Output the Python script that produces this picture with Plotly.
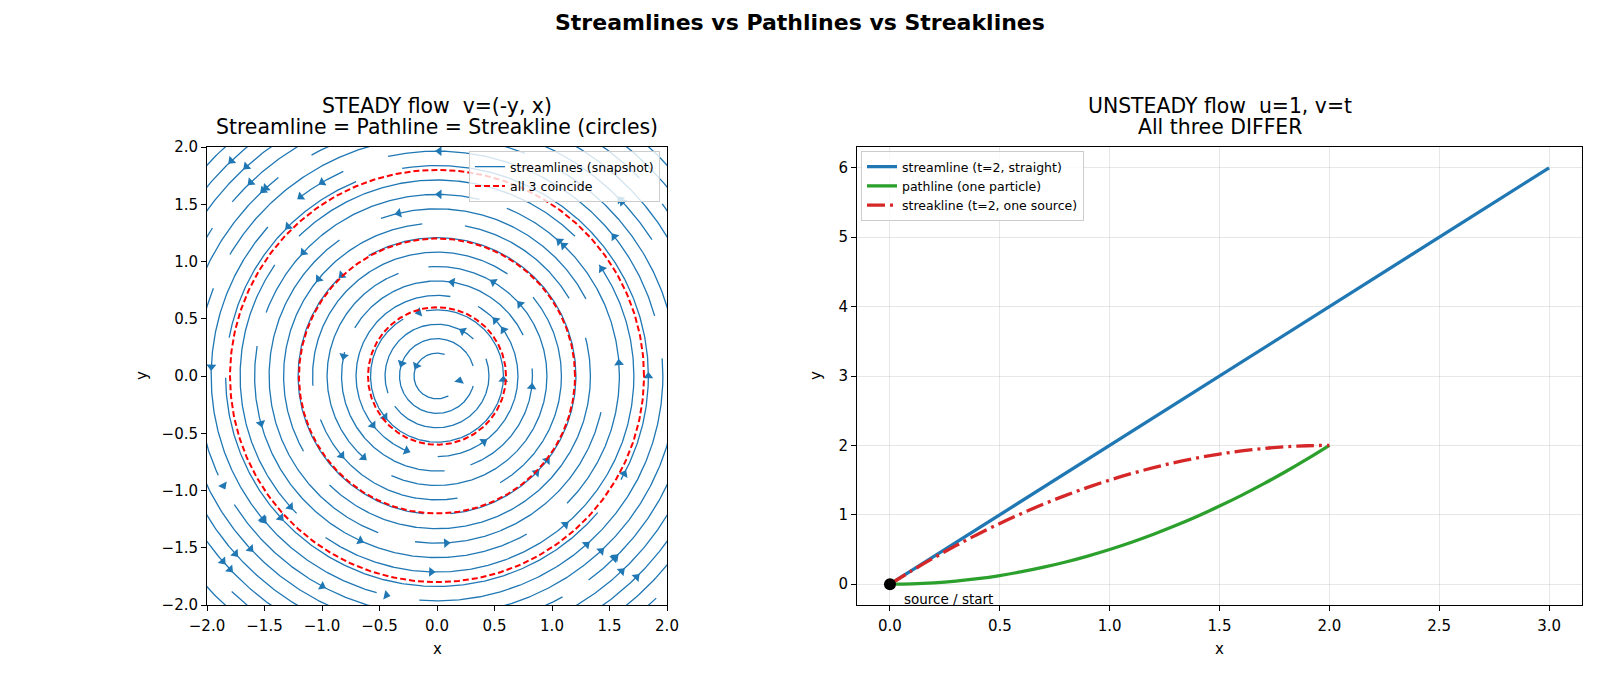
import numpy as np
import plotly.graph_objects as go

# ---------------- data ----------------
# left: steady rotational flow v = (-y, x); streamlines are circles (radii)
stream_radii = [0.200, 0.326, 0.452, 0.578, 0.704, 0.830, 0.956, 1.082, 1.208, 1.334, 1.460,
                1.586, 1.712, 1.838, 1.964, 2.090, 2.216, 2.342, 2.468, 2.594, 2.720, 2.846]
# breaks in each streamline (degrees, counter-clockwise)
stream_gaps = [
    [(300, 430)],
    [(345, 375)],
    [(20, 45), (200, 215)],
    [(100, 120)],
    [(60, 80), (250, 270)],
    [(5, 25), (150, 165), (275, 290)],
    [(95, 110), (230, 245)],
    [(40, 55), (185, 200), (280, 300)],
    [(120, 135), (265, 275)],
    [(15, 30), (80, 95), (210, 225)],
    [(-12, 27), (110, 125), (250, 262)],
    [(68, 76), (160, 170), (300, 315)],
    [(35, 45), (135, 145), (225, 235)],
    [(100, 112), (170, 180), (320, 330)],
    [(5, 15), (103, 114), (128, 138), (255, 265)],
    [(60, 68), (150, 158), (205, 212)],
    [(25, 32), (120, 128), (300, 306)],
    [(140, 146)],
    [(38, 44)],
    [(220, 226)],
    [(315, 320)],
    [],
]
coincide_radii = [0.6, 1.2, 1.8]
arrow_x = [-1.78, -1.65, -1.60, -1.52, -1.45, -1.22, -0.98, 0.02, 0.02, -0.33, -1.28, -1.13, -1.02, -0.83,
           1.04, 1.13, 1.47, 1.57, 1.57, 1.59, 0.13, 0.46, 0.76, -0.15, 0.21, 0.47, 0.59, -0.79, -0.28, -0.18,
           -1.95, 1.54, 0.24, 0.54, 0.78, 1.78, -1.48, -0.42, -0.56, 0.39, -0.80, -0.61, -0.28, 0.82, 1.00,
           1.64, -1.90, -1.24, -1.48, -1.35, -1.54, 1.11, -0.65, 0.08, 1.30, 1.43, 1.50, 1.57, -1.74, -1.61,
           -1.91, -1.80, -0.05, 1.63, -1.00, -0.43, 1.77]
arrow_y = [1.87, 1.82, 1.67, 1.63, 1.60, 1.61, 1.66, 1.93, 1.57, 1.41, 1.29, 1.05, 0.84, 0.88,
           1.15, 1.17, 0.96, 1.24, 1.48, 1.54, 0.80, 0.77, 0.66, 0.53, 0.37, 0.45, 0.41, 0.17, 0.10, 0.09,
           0.08, 0.11, -0.05, -0.03, -0.09, 0.00, -0.40, -0.33, -0.43, -0.55, -0.67, -0.68, -0.69, -0.80, -0.77,
           -0.86, -0.98, -1.11, -1.22, -1.23, -1.29, -1.29, -1.40, -1.45, -1.47, -1.53, -1.55, -1.60, -1.54, -1.50,
           -1.66, -1.69, -1.73, -1.73, -1.84, -1.87, -1.79]

# right: unsteady flow u=1, v=t
streamline_x = [0.0, 3.0]
streamline_y = [0.0, 6.0]
path_x = [0.0, 0.1, 0.2, 0.3, 0.4, 0.5, 0.6, 0.7, 0.8, 0.9, 1.0, 1.1, 1.2, 1.3, 1.4, 1.5, 1.6, 1.7, 1.8, 1.9, 2.0]
path_y = [0.0, 0.005, 0.02, 0.045, 0.08, 0.125, 0.18, 0.245, 0.32, 0.405, 0.5, 0.605, 0.72, 0.845, 0.98,
          1.125, 1.28, 1.445, 1.62, 1.805, 2.0]
streak_x = path_x
streak_y = [0.0, 0.195, 0.38, 0.555, 0.72, 0.875, 1.02, 1.155, 1.28, 1.395, 1.5, 1.595, 1.68, 1.755, 1.82,
            1.875, 1.92, 1.955, 1.98, 1.995, 2.0]
source_x = [0.0]
source_y = [0.0]

BLUE = "#1f77b4"
GREEN = "#2ca02c"
RED = "#d62728"
FONT = "DejaVu Sans"

fig = go.Figure()


def in_gap(a, gaps):
    for g0, g1 in gaps:
        for shift in (-360, 0, 360):
            if g0 <= a + shift <= g1:
                return True
    return False


sx, sy = [], []
angles = np.arange(0, 360.5, 0.5)
for r, gaps in zip(stream_radii, stream_gaps):
    drawing = False
    for a in angles:
        if in_gap(a, gaps):
            if drawing:
                sx.append(None)
                sy.append(None)
                drawing = False
            continue
        t = np.radians(a)
        sx.append(r * np.cos(t))
        sy.append(r * np.sin(t))
        drawing = True
    sx.append(None)
    sy.append(None)
fig.add_trace(go.Scatter(x=sx, y=sy, mode="lines", line=dict(color=BLUE, width=1.3),
                         name="streamlines (snapshot)", xaxis="x", yaxis="y", legend="legend"))

# arrows snapped to nearest streamline, oriented with the flow
ax_arr, ay_arr, ang = [], [], []
for x, y in zip(arrow_x, arrow_y):
    r = np.hypot(x, y)
    rr = min(stream_radii, key=lambda s: abs(s - r))
    t = np.arctan2(y, x)
    px, py = rr * np.cos(t), rr * np.sin(t)
    ax_arr.append(px)
    ay_arr.append(py)
    vx, vy = -py, px
    ang.append(float(np.degrees(np.arctan2(vx, vy))))
fig.add_trace(go.Scatter(x=ax_arr, y=ay_arr, mode="markers",
                         marker=dict(symbol="triangle-up", size=8.5, color=BLUE, angle=ang,
                                     line=dict(width=0)),
                         showlegend=False, xaxis="x", yaxis="y"))

th = np.linspace(0, 2 * np.pi, 361)
cx, cy = [], []
for r in coincide_radii:
    cx += list(r * np.cos(th)) + [None]
    cy += list(r * np.sin(th)) + [None]
fig.add_trace(go.Scatter(x=cx, y=cy, mode="lines", line=dict(color="red", width=2, dash="6px,3px"),
                         name="all 3 coincide", xaxis="x", yaxis="y", legend="legend"))

# right panel
fig.add_trace(go.Scatter(x=streamline_x, y=streamline_y, mode="lines", line=dict(color=BLUE, width=3.3),
                         name="streamline (t=2, straight)", xaxis="x2", yaxis="y2", legend="legend2"))
fig.add_trace(go.Scatter(x=path_x, y=path_y, mode="lines", line=dict(color=GREEN, width=3.3, shape="spline"),
                         name="pathline (one particle)", xaxis="x2", yaxis="y2", legend="legend2"))
fig.add_trace(go.Scatter(x=streak_x, y=streak_y, mode="lines",
                         line=dict(color=RED, width=3.3, dash="18px,5px,3px,5px", shape="spline"),
                         name="streakline (t=2, one source)", xaxis="x2", yaxis="y2", legend="legend2"))
fig.add_trace(go.Scatter(x=source_x, y=source_y, mode="markers", marker=dict(color="black", size=12),
                         showlegend=False, xaxis="x2", yaxis="y2", cliponaxis=False))

W, H = 1600, 677
LX0, LX1 = 207, 667
RX0, RX1 = 857, 1582
YT, YB = 147, 605
lx0, lx1 = LX0 / W, LX1 / W
rx0, rx1 = RX0 / W, RX1 / W
yb, yt = 1 - YB / H, 1 - YT / H

TICK = 15
tick_font = dict(family=FONT, size=TICK, color="black")
common = dict(showline=True, linecolor="black", linewidth=1, mirror=True, ticks="outside",
              ticklen=5, tickcolor="black", tickfont=tick_font, zeroline=False, automargin=False)

lt = [-2.0, -1.5, -1.0, -0.5, 0.0, 0.5, 1.0, 1.5, 2.0]
ltt = [f"{v:.1f}".replace("-", "\u2212") for v in lt]

fig.update_layout(
    width=W, height=H,
    margin=dict(l=0, r=0, t=0, b=0, autoexpand=False),
    paper_bgcolor="white", plot_bgcolor="white",
    font=dict(family=FONT, color="black"),
    xaxis=dict(domain=[lx0, lx1], range=[-2, 2], tickvals=lt, ticktext=ltt, showgrid=False,
               anchor="y", ticklabelstandoff=2, **common),
    yaxis=dict(domain=[yb, yt], range=[-2, 2], tickvals=lt, ticktext=ltt, showgrid=False,
               anchor="x", **common),
    xaxis2=dict(domain=[rx0, rx1], range=[-0.15, 3.15], tickvals=[0, 0.5, 1, 1.5, 2, 2.5, 3],
                ticktext=["0.0", "0.5", "1.0", "1.5", "2.0", "2.5", "3.0"],
                showgrid=True, gridcolor="rgba(176,176,176,0.3)", gridwidth=1,
                anchor="y2", ticklabelstandoff=2, **common),
    yaxis2=dict(domain=[yb, yt], range=[-0.3, 6.3], tickvals=[0, 1, 2, 3, 4, 5, 6],
                showgrid=True, gridcolor="rgba(176,176,176,0.3)", gridwidth=1,
                anchor="x2", **common),
    legend=dict(x=660 / W, y=1 - 151 / H, xanchor="right", yanchor="top",
                bgcolor="rgba(255,255,255,0.8)", bordercolor="#cccccc", borderwidth=1,
                font=dict(family=FONT, size=12.5), tracegroupgap=0, itemwidth=30),
    legend2=dict(x=861 / W, y=1 - 151 / H, xanchor="left", yanchor="top",
                 bgcolor="rgba(255,255,255,0.8)", bordercolor="#cccccc", borderwidth=1,
                 font=dict(family=FONT, size=12.5), tracegroupgap=0, itemwidth=30),
    showlegend=True,
)


def pann(text, xpx, ypx, size, bold=False, angle=0):
    return dict(text=f"<b>{text}</b>" if bold else text, x=xpx / W, y=1 - ypx / H, xref="paper",
                yref="paper", showarrow=False, font=dict(family=FONT, size=size), textangle=angle,
                xanchor="center", yanchor="middle")


lcx = (LX0 + LX1) / 2
rcx = (RX0 + RX1) / 2
ycx = (YT + YB) / 2
ann = [
    pann("Streamlines vs Pathlines vs Streaklines", 800, 22.5, 22, bold=True),
    pann("STEADY flow  v=(-y, x)", lcx, 106, 20.4),
    pann("Streamline = Pathline = Streakline (circles)", lcx, 127, 20.4),
    pann("UNSTEADY flow  u=1, v=t", rcx, 106, 20.4),
    pann("All three DIFFER", rcx, 127, 20.4),
    pann("x", lcx, 649, TICK),
    pann("x", rcx, 649, TICK),
    pann("y", 142, ycx, TICK, angle=-90),
    pann("y", 816, ycx, TICK, angle=-90),
    dict(text="source / start", x=0.055, y=-0.07, xref="x2", yref="y2", showarrow=False,
         font=dict(family=FONT, size=13.5), xanchor="left", yanchor="top"),
]
fig.update_layout(annotations=ann)

fig.write_html("out.html")
